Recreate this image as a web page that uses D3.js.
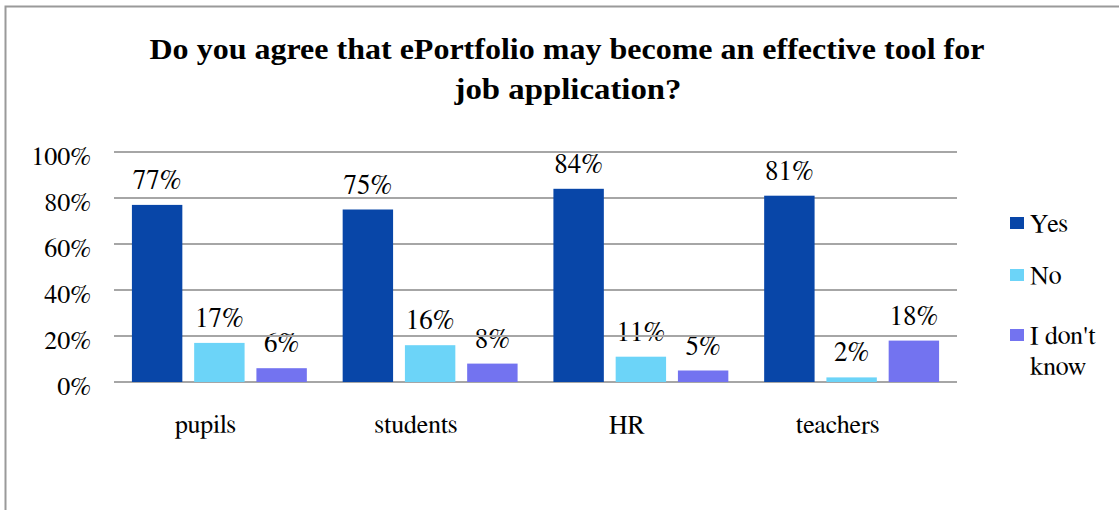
<!DOCTYPE html>
<html>
<head>
<meta charset="utf-8">
<script src="https://cdn.jsdelivr.net/npm/d3@7"></script>
<style>
  html, body { margin: 0; padding: 0; background: #ffffff; }
  svg { display: block; }
</style>
</head>
<body>
<svg id="chart" width="1119" height="510"></svg>
<script>
// Survey answers per respondent group (share of respondents)
const categories = ["pupils", "students", "HR", "teachers"];
const seriesNames = ["Yes", "No", "I don't know"];
const yesValues = [0.77, 0.75, 0.84, 0.81];
const noValues = [0.17, 0.16, 0.11, 0.02];
const dontKnowValues = [0.06, 0.08, 0.05, 0.18];
const yTicks = [0, 0.2, 0.4, 0.6, 0.8, 1.0];
const titleLines = ["Do you agree that ePortfolio may become an effective tool for", "job application?"];

const seriesValues = [yesValues, noValues, dontKnowValues];
const colors = ["#0846a8", "#6cd4f8", "#7373f0"];
const SERIF = "FreeSerif, Times, Tinos, serif";
const SERIF_BOLD = "'Liberation Serif', FreeSerif, Times, serif";

const svg = d3.select("#chart");

// outer frame (open on the right and bottom)
svg.append("path")
  .attr("d", "M5.5,510 L5.5,6.5 L1119,6.5")
  .attr("fill", "none")
  .attr("stroke", "#9a9a9a")
  .attr("stroke-width", 2);

// title, fitted to its two lines
const titleWidths = [835, 227];
const titleY = [59, 99];
const titleX = [567, 568];
titleLines.forEach((ln, i) => {
  svg.append("text")
    .attr("x", titleX[i] - titleWidths[i] / 2).attr("y", titleY[i])
    .attr("textLength", titleWidths[i])
    .attr("lengthAdjust", "spacingAndGlyphs")
    .style("font-family", SERIF_BOLD)
    .style("font-size", "29px").style("font-weight", "bold")
    .style("fill", "#000")
    .text(ln);
});

// scales
const plotLeft = 114, plotRight = 957, plotTop = 152, plotBottom = 382;
const x0 = d3.scaleBand().domain(categories).range([plotLeft, plotRight])
  .paddingInner(0.17).paddingOuter(0.085);
const x1 = d3.scaleBand().domain(d3.range(seriesNames.length))
  .range([0, x0.bandwidth()]).paddingInner(0.19).paddingOuter(0);
const y = d3.scaleLinear().domain([0, 1]).range([plotBottom, plotTop]);

const rows = categories.map((c, i) => ({
  category: c,
  values: seriesValues.map((s, k) => ({ k, v: s[i] }))
}));

// data labels (drawn first so gridlines pass over them)
const labels = svg.append("g");
rows.forEach(r => {
  labels.selectAll(null).data(r.values).enter().append("text")
    .attr("x", d => x0(r.category) + x1(d.k) + x1.bandwidth() / 2)
    .attr("y", d => y(d.v) - 16)
    .attr("text-anchor", "middle")
    .style("font-family", SERIF)
    .style("font-size", "27px")
    .style("fill", "#000")
    .text(d => Math.round(d.v * 100) + "%");
});

// gridlines
svg.append("g").selectAll("line").data(yTicks).enter().append("line")
  .attr("x1", plotLeft).attr("x2", plotRight)
  .attr("y1", d => y(d)).attr("y2", d => y(d))
  .attr("stroke", "#a6a6a6").attr("stroke-width", 2);

// y axis labels
const yAxis = svg.append("g")
  .attr("transform", `translate(${plotLeft},0)`)
  .call(d3.axisLeft(y).tickValues(yTicks).tickSize(0).tickPadding(23)
    .tickFormat(d3.format(".0%")));
yAxis.select(".domain").remove();
yAxis.selectAll("text")
  .style("font-family", SERIF)
  .style("font-size", "26px")
  .style("fill", "#000")
  .attr("dy", "0.48em");

// bars
const groups = svg.append("g").selectAll("g").data(rows).enter().append("g")
  .attr("transform", d => `translate(${x0(d.category)},0)`);
groups.selectAll("rect").data(d => d.values).enter().append("rect")
  .attr("x", d => x1(d.k))
  .attr("width", x1.bandwidth())
  .attr("y", d => y(d.v))
  .attr("height", d => y(0) - y(d.v))
  .attr("fill", d => colors[d.k]);

// category labels
svg.append("g").selectAll("text").data(categories).enter().append("text")
  .attr("x", d => x0(d) + x0.bandwidth() / 2 - 14)
  .attr("y", 433)
  .attr("text-anchor", "middle")
  .style("font-family", SERIF)
  .style("font-size", "26px")
  .style("fill", "#000")
  .text(d => d);

// legend
const legendItems = [
  { lines: ["Yes"], y: 217 },
  { lines: ["No"], y: 269 },
  { lines: ["I don't", "know"], y: 329 }
];
const legend = svg.append("g");
legendItems.forEach((it, k) => {
  legend.append("rect")
    .attr("x", 1010).attr("y", it.y)
    .attr("width", 14).attr("height", 12)
    .attr("fill", colors[k]);
  const t = legend.append("text")
    .attr("x", 1030).attr("y", it.y + 15)
    .style("font-family", SERIF)
    .style("font-size", "26px")
    .style("fill", "#000");
  it.lines.forEach((ln, j) => {
    t.append("tspan").attr("x", 1030).attr("dy", j === 0 ? 0 : 31).text(ln);
  });
});
</script>
</body>
</html>
